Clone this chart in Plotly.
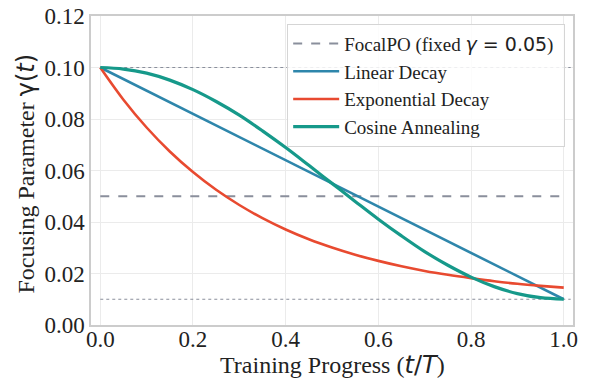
import plotly.graph_objects as go

t = [0.0, 0.05, 0.1, 0.15, 0.2, 0.25, 0.3, 0.35, 0.4, 0.45, 0.5,
     0.55, 0.6, 0.65, 0.7, 0.75, 0.8, 0.85, 0.9, 0.95, 1.0]
linear_t = [0.0, 1.0]
linear_y = [0.100, 0.010]
exp_y = [0.1000, 0.0875, 0.0767, 0.0674, 0.0594, 0.0525, 0.0466, 0.0415, 0.0371, 0.0333, 0.0301,
         0.0273, 0.0249, 0.0228, 0.0210, 0.0195, 0.0182, 0.0170, 0.0160, 0.0152, 0.0145]
cos_y = [0.1000, 0.0994, 0.0978, 0.0951, 0.0914, 0.0868, 0.0815, 0.0754, 0.0689, 0.0620, 0.0550,
         0.0480, 0.0411, 0.0346, 0.0285, 0.0232, 0.0186, 0.0149, 0.0122, 0.0106, 0.0100]
fixed_t = [0.0, 1.0]
fixed_y = [0.05, 0.05]
bound_t = [0.0, 1.015]
upper_y = [0.10, 0.10]
lower_y = [0.01, 0.01]

xticks = [0.0, 0.2, 0.4, 0.6, 0.8, 1.0]
yticks = [0.00, 0.02, 0.04, 0.06, 0.08, 0.10, 0.12]

SERIF = "Liberation Serif, Times New Roman, serif"
MATH = "DejaVu Sans"

fig = go.Figure()
fig.add_trace(go.Scatter(x=bound_t, y=upper_y, mode="lines", showlegend=False,
                         line=dict(color="#8a8f9c", width=1.2, dash="dot"), hoverinfo="skip"))
fig.add_trace(go.Scatter(x=bound_t, y=lower_y, mode="lines", showlegend=False,
                         line=dict(color="#8a8f9c", width=1.2, dash="dot"), hoverinfo="skip"))
fig.add_trace(go.Scatter(x=fixed_t, y=fixed_y, mode="lines",
                         name=f"FocalPO (fixed <span style='font-family:{MATH}'><i>γ</i> = 0.05</span>)&nbsp;",
                         line=dict(color="#8a8f9c", width=2, dash="dash")))
fig.add_trace(go.Scatter(x=linear_t, y=linear_y, mode="lines", name="Linear Decay",
                         line=dict(color="#2e86ab", width=2.6)))
fig.add_trace(go.Scatter(x=t, y=exp_y, mode="lines", name="Exponential Decay",
                         line=dict(color="#e84a30", width=2.6, shape="spline")))
fig.add_trace(go.Scatter(x=t, y=cos_y, mode="lines", name="Cosine Annealing",
                         line=dict(color="#16998a", width=3.2, shape="spline")))

fig.update_layout(
    width=589, height=379,
    margin=dict(l=91, r=16, t=16, b=54, autoexpand=False),
    paper_bgcolor="white", plot_bgcolor="white",
    font=dict(family=SERIF, color="#222222", size=23),
    legend=dict(x=0.407, y=0.975, xanchor="left", yanchor="top",
                bgcolor="rgba(255,255,255,0.85)", bordercolor="#d5d5d5", borderwidth=1,
                font=dict(family=SERIF, size=19, color="#222222"),
                itemwidth=46, tracegroupgap=0),
    xaxis=dict(range=[-0.02, 1.02], tickvals=xticks, tickformat=".1f",
               showgrid=True, gridcolor="#ebebeb", gridwidth=1,
               showline=True, linecolor="#cccccc", linewidth=1.5, mirror=True,
               zeroline=False, ticks="", ticklen=0, automargin=False,
               ticklabelstandoff=-7, ticklabeloverflow="allow"),
    yaxis=dict(range=[0, 0.12], tickvals=yticks, tickformat=".2f",
               showgrid=True, gridcolor="#ebebeb", gridwidth=1,
               showline=True, linecolor="#cccccc", linewidth=1.5, mirror=True,
               zeroline=False, ticks="", ticklen=0, automargin=False,
               ticklabeloverflow="allow"),
    annotations=[
        dict(text="Training Progress (<span style='font-family:DejaVu Sans'><i>t</i>/<i>T</i></span>)",
             xref="paper", yref="paper", x=0.5, y=-0.129, xanchor="center", yanchor="middle",
             showarrow=False, font=dict(size=24)),
        dict(text="Focusing Parameter <span style='font-family:DejaVu Sans'>γ(<i>t</i>)</span>",
             xref="paper", yref="paper", x=-0.135, y=0.49, xanchor="center", yanchor="middle",
             textangle=-90, showarrow=False, font=dict(size=24)),
    ],
)

fig.write_html("out.html", config={"displayModeBar": False},
               post_script="document.body.style.margin='0';")
